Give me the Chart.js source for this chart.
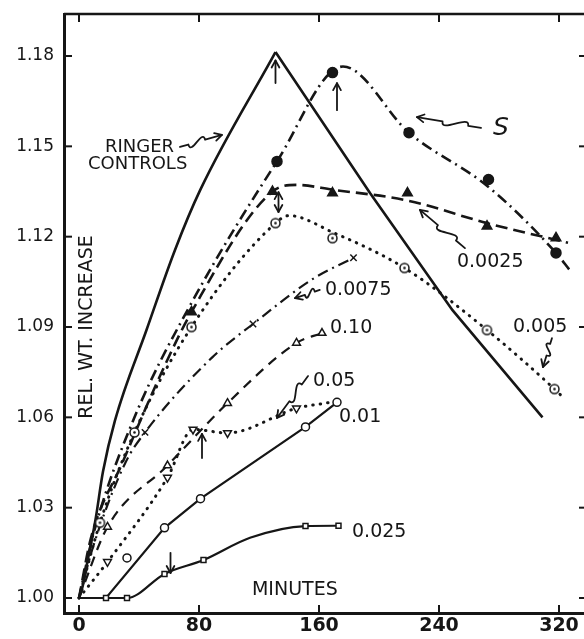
<!DOCTYPE html>
<html>
<head>
<meta charset="utf-8">
<script src="https://cdn.jsdelivr.net/npm/chart.js@4.4.0/dist/chart.umd.min.js"></script>
<style>
  html, body { margin: 0; padding: 0; background: #fff; }
  #chart { display: block; }
</style>
</head>
<body>
<canvas id="chart" width="584" height="639"></canvas>
<script>
// axis ticks
const xTicks = [0, 80, 160, 240, 320];
const yTicks = [1.00, 1.03, 1.06, 1.09, 1.12, 1.15, 1.18];

// Ringer controls (drawn curve only, sharp peak so two pieces)
const ringerUpMin = [0, 2, 6, 11, 16, 24, 45, 64, 81, 131];
const ringerUpVal = [1.000, 1.003, 1.013, 1.026, 1.042, 1.059, 1.089, 1.1156, 1.1357, 1.1813];
const ringerDownMin = [131, 194, 249, 309];
const ringerDownVal = [1.1813, 1.1345, 1.0956, 1.060];

// S
const sLineMin = [0, 10, 37, 75, 132, 176, 220, 273, 318, 327];
const sLineVal = [1.000, 1.022, 1.060, 1.098, 1.145, 1.1765, 1.1545, 1.1365, 1.1146, 1.109];
const sMarkMin = [132, 169, 220, 273, 318];
const sMarkVal = [1.145, 1.1745, 1.1545, 1.139, 1.1146];

// 0.0025
const p0025LineMin = [0, 8, 29, 57, 75, 129, 145, 169, 219, 272, 326];
const p0025LineVal = [1.000, 1.020, 1.045, 1.077, 1.095, 1.135, 1.1372, 1.1356, 1.132, 1.1245, 1.118];
const p0025MarkMin = [75, 129, 169, 219, 272, 318];
const p0025MarkVal = [1.095, 1.135, 1.1345, 1.1345, 1.1235, 1.1196];

// 0.005
const p005LineMin = [0, 14, 37, 75, 131, 140, 169, 217, 272, 317, 322];
const p005LineVal = [1.000, 1.025, 1.055, 1.090, 1.1245, 1.127, 1.1215, 1.1096, 1.089, 1.0694, 1.067];
const p005MarkMin = [14, 37, 75, 131, 169, 217, 272, 317];
const p005MarkVal = [1.025, 1.055, 1.090, 1.1245, 1.1195, 1.1096, 1.089, 1.0694];

// 0.0075
const p0075LineMin = [0, 10, 31, 44, 89, 116, 156, 183];
const p0075LineVal = [1.000, 1.018, 1.045, 1.055, 1.080, 1.091, 1.106, 1.113];
const p0075MarkMin = [44, 116, 183];
const p0075MarkVal = [1.055, 1.091, 1.113];

// 0.10
const p10LineMin = [0, 19, 59, 99, 145, 162];
const p10LineVal = [1.000, 1.0236, 1.044, 1.0647, 1.0847, 1.088];
const p10MarkMin = [19, 59, 99, 145, 162];
const p10MarkVal = [1.0236, 1.044, 1.0647, 1.0847, 1.088];

// 0.05
const p05LineMin = [0, 19, 59, 76, 99, 145, 168];
const p05LineVal = [1.000, 1.012, 1.040, 1.056, 1.0548, 1.063, 1.065];
const p05MarkMin = [19, 59, 76, 99, 145];
const p05MarkVal = [1.012, 1.040, 1.056, 1.0548, 1.063];

// 0.01
const p01LineMin = [0, 18, 57, 81, 151, 172];
const p01LineVal = [1.000, 1.000, 1.0233, 1.033, 1.0568, 1.065];
const p01MarkMin = [32, 57, 81, 151, 172];
const p01MarkVal = [1.0133, 1.0233, 1.033, 1.0568, 1.065];

// 0.025
const p025LineMin = [0, 18, 32, 57, 83, 114, 151, 173];
const p025LineVal = [1.000, 1.000, 1.000, 1.008, 1.0126, 1.020, 1.0239, 1.024];
const p025MarkMin = [18, 32, 57, 83, 151, 173];
const p025MarkVal = [1.000, 1.000, 1.008, 1.0126, 1.0239, 1.024];

const INK = '#161616';
const FONT = 'DejaVu Sans';

const pts = (xs, ys) => xs.map((x, i) => ({ x: x, y: ys[i] }));

function curve(xs, ys, dash, width, smooth) {
  return {
    data: pts(xs, ys), showLine: true, order: 2,
    borderColor: INK, borderWidth: width, borderDash: dash,
    borderCapStyle: dash.length && dash[0] < 1 ? 'round' : 'butt',
    pointRadius: 0, pointHoverRadius: 0,
    cubicInterpolationMode: smooth ? 'monotone' : 'default', tension: 0
  };
}

function marks(xs, ys, style, radius, fill, rot) {
  return {
    data: pts(xs, ys), showLine: false, order: 1,
    pointStyle: style, pointRadius: radius, pointHoverRadius: radius,
    pointBackgroundColor: fill, pointBorderColor: INK, pointBorderWidth: 1.5,
    pointRotation: rot || 0
  };
}

// circle with a dot in it
const dotRing = document.createElement('canvas');
dotRing.width = dotRing.height = 13;
const g = dotRing.getContext('2d');
g.fillStyle = '#fff'; g.strokeStyle = INK; g.lineWidth = 1.5;
g.beginPath(); g.arc(6.5, 6.5, 4.5, 0, Math.PI * 2); g.fill(); g.stroke();
g.fillStyle = INK;
g.beginPath(); g.arc(6.5, 6.5, 1.3, 0, Math.PI * 2); g.fill();

const DASH = [12, 6], DASHDOT = [11, 5, 2, 5], DOTS = [0.5, 7];

// text, arrows and the remaining frame pieces
const notes = [
  { text: 'RINGER', x: 17.3, y: 1.1498, size: 18 },
  { text: 'CONTROLS', x: 6, y: 1.1441, size: 18 },
  { text: '0.0025', x: 252, y: 1.1116 },
  { text: '0.0075', x: 164, y: 1.1023 },
  { text: '0.10', x: 167.3, y: 1.0897 },
  { text: '0.05', x: 156, y: 1.0721 },
  { text: '0.01', x: 173.3, y: 1.0601 },
  { text: '0.025', x: 182, y: 1.0219 },
  { text: '0.005', x: 289.3, y: 1.090 },
  { text: 'MINUTES', x: 115.3, y: 1.0027 },
  { text: 'S', x: 276, y: 1.1558, size: 25, style: 'italic ' }
];
const squiggles = [
  [67.3, 1.1498, 95.3, 1.1538],
  [268, 1.1561, 225.3, 1.1597],
  [257.3, 1.1162, 227.3, 1.1289],
  [160.5, 1.1023, 144, 1.0996],
  [152.7, 1.0737, 132, 1.0598],
  [315.3, 1.0863, 309.3, 1.0767]
];
const pointers = [
  [131, 1.171, 1.1785, false],
  [172, 1.162, 1.171, false],
  [133, 1.1282, 1.1348, true],
  [82, 1.0465, 1.0545, false],
  [61, 1.015, 1.0083, false]
];

function arrowHead(ctx, x, y, ux, uy) {
  const s = 7, w = 0.55;
  ctx.beginPath();
  ctx.moveTo(x - ux * s - uy * s * w, y - uy * s + ux * s * w);
  ctx.lineTo(x, y);
  ctx.lineTo(x - ux * s + uy * s * w, y - uy * s - ux * s * w);
  ctx.stroke();
}

function squiggle(ctx, x0, y0, x1, y1) {
  const dx = x1 - x0, dy = y1 - y0, len = Math.hypot(dx, dy);
  const ux = dx / len, uy = dy / len, nx = -uy, ny = ux, w = 6;
  const ax = x0 + dx * 0.2, ay = y0 + dy * 0.2;
  const bx = x0 + dx * 0.6, by = y0 + dy * 0.6;
  ctx.beginPath();
  ctx.moveTo(x0, y0);
  ctx.lineTo(ax, ay);
  ctx.bezierCurveTo(ax + nx * w * 2, ay + ny * w * 2, bx - nx * w * 2, by - ny * w * 2, bx, by);
  ctx.lineTo(x1, y1);
  ctx.stroke();
  arrowHead(ctx, x1, y1, ux, uy);
}

const annotate = {
  id: 'annotate',
  afterDraw(chart) {
    const { ctx, chartArea: a, scales: { x, y } } = chart;
    const px = v => x.getPixelForValue(v), py = v => y.getPixelForValue(v);
    const seg = (x0, y0, x1, y1) => { ctx.beginPath(); ctx.moveTo(x0, y0); ctx.lineTo(x1, y1); ctx.stroke(); };
    ctx.save();
    ctx.strokeStyle = INK; ctx.fillStyle = INK; ctx.lineCap = 'butt';

    // top frame line and inward ticks
    ctx.lineWidth = 2.5;
    seg(a.left, a.top, a.right, a.top);
    ctx.lineWidth = 2;
    xTicks.forEach(v => { const X = px(v); seg(X, a.bottom, X, a.bottom - 8); seg(X, a.top, X, a.top + 8); });
    yTicks.forEach(v => { const Y = py(v); seg(a.left, Y, a.left + 8, Y); seg(a.right, Y, a.right - 5, Y); });

    // labels
    ctx.textBaseline = 'middle'; ctx.textAlign = 'left';
    notes.forEach(n => {
      ctx.font = (n.style || '') + (n.size || 19) + 'px "' + FONT + '"';
      ctx.fillText(n.text, px(n.x), py(n.y));
    });
    ctx.save();
    ctx.translate(px(5.3), py(1.09));
    ctx.rotate(-Math.PI / 2);
    ctx.textAlign = 'center';
    ctx.font = '19px "' + FONT + '"';
    ctx.fillText('REL. WT. INCREASE', 0, 0);
    ctx.restore();

    // arrows
    ctx.lineWidth = 1.8; ctx.lineCap = 'round'; ctx.lineJoin = 'round';
    squiggles.forEach(s => squiggle(ctx, px(s[0]), py(s[1]), px(s[2]), py(s[3])));
    pointers.forEach(p => {
      const X = px(p[0]), Y0 = py(p[1]), Y1 = py(p[2]);
      const dir = Y1 < Y0 ? -1 : 1;
      seg(X, Y0, X, Y1);
      arrowHead(ctx, X, Y1, 0, dir);
      if (p[3]) arrowHead(ctx, X, Y0, 0, -dir);
    });
    ctx.restore();
  }
};

new Chart(document.getElementById('chart'), {
  type: 'scatter',
  data: {
    datasets: [
      curve(ringerUpMin, ringerUpVal, [], 2.6, true),
      curve(ringerDownMin, ringerDownVal, [], 2.6, false),
      curve(sLineMin, sLineVal, DASHDOT, 2.6, true),
      curve(p0025LineMin, p0025LineVal, DASH, 2.6, true),
      curve(p005LineMin, p005LineVal, DOTS, 3, true),
      curve(p0075LineMin, p0075LineVal, DASHDOT, 2.2, true),
      curve(p10LineMin, p10LineVal, [10, 7], 2.2, true),
      curve(p05LineMin, p05LineVal, DOTS, 3, true),
      curve(p01LineMin, p01LineVal, [], 2.2, false),
      curve(p025LineMin, p025LineVal, [], 2.2, true),
      marks(sMarkMin, sMarkVal, 'circle', 5, INK),
      marks(p0025MarkMin, p0025MarkVal, 'triangle', 5.5, INK),
      marks(p005MarkMin, p005MarkVal, dotRing, 5, '#fff'),
      marks(p0075MarkMin, p0075MarkVal, 'crossRot', 4.5, INK),
      marks(p10MarkMin, p10MarkVal, 'triangle', 4.5, '#fff'),
      marks(p05MarkMin, p05MarkVal, 'triangle', 4.5, '#fff', 180),
      marks(p01MarkMin, p01MarkVal, 'circle', 4, '#fff'),
      marks(p025MarkMin, p025MarkVal, 'rect', 3.5, '#fff')
    ]
  },
  options: {
    responsive: false,
    animation: false,
    devicePixelRatio: 1,
    layout: { autoPadding: false, padding: { top: 14, right: 0, left: 0, bottom: 0 } },
    plugins: { legend: { display: false }, tooltip: { enabled: false } },
    scales: {
      x: {
        type: 'linear', min: -10, max: 336.67,
        afterBuildTicks: s => { s.ticks = xTicks.map(v => ({ value: v })); },
        afterFit: s => { s.height = 26; s.paddingLeft = 0; s.paddingRight = 0; },
        grid: { display: false, drawTicks: false },
        border: { display: true, color: INK, width: 3 },
        ticks: {
          color: INK, padding: 2, maxRotation: 0, autoSkip: false,
          font: { family: FONT, size: 19, weight: 'bold' },
          callback: v => String(v)
        }
      },
      y: {
        type: 'linear', min: 0.99502, max: 1.19395,
        afterBuildTicks: s => { s.ticks = yTicks.map(v => ({ value: v })); },
        afterFit: s => { s.width = 64; s.paddingTop = 0; s.paddingBottom = 0; },
        grid: { display: false, drawTicks: false },
        border: { display: true, color: INK, width: 3 },
        ticks: {
          color: INK, padding: 10, autoSkip: false,
          font: { family: FONT, size: 17 },
          callback: v => v.toFixed(2)
        }
      }
    }
  },
  plugins: [annotate]
});
</script>
</body>
</html>
